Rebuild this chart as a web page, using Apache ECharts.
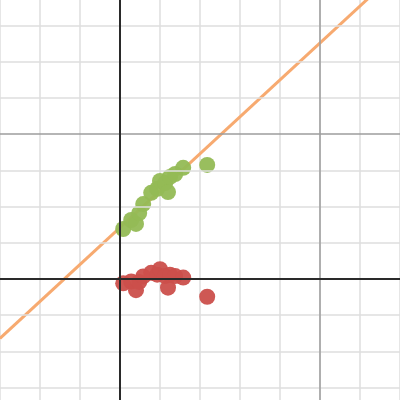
<!DOCTYPE html>
<html>
<head>
<meta charset="utf-8">
<script src="https://cdn.jsdelivr.net/npm/echarts@6/dist/echarts.min.js"></script>
<style>
html,body{margin:0;padding:0;background:#fff;}
#c{width:400px;height:400px;}
</style>
</head>
<body>
<div id="c"></div>
<script>
// x positions shared by both point sets
var xVals = [0.08, 0.28, 0.40, 0.48, 0.58, 0.78, 0.93, 1.00, 1.13, 1.20, 1.25, 1.38, 1.58, 2.18];
// observed values (green)
var greenY = [1.38, 1.63, 1.52, 1.82, 2.07, 2.38, 2.49, 2.71, 2.65, 2.40, 2.82, 2.90, 3.07, 3.15];
// residuals (red)
var redY = [-0.12, -0.07, -0.31, -0.08, 0.07, 0.17, 0.12, 0.27, 0.08, -0.24, 0.12, 0.08, 0.04, -0.49];
// fitted line endpoints
var fitX = [-3, 7];
var fitY = [-1.64, 8.56];
// visible window
var xRange = [-3, 7];
var yRange = [-3.343, 7.707];
// grid line positions
var minorY = [-3, -2, -1, 1, 2, 3, 5, 6, 7];
var axisX = [0];
var axisY = [0];
var majorX = [5];
var majorY = [4];

function pairs(xs, ys){ return xs.map(function(x,i){ return [x, ys[i]]; }); }

var chart = echarts.init(document.getElementById('c'), null, {renderer:'canvas'});
var minorStyle = {color:'#dedede', width:1.5, type:'solid'};
var minorData = [];
minorY.forEach(function(v){ minorData.push({yAxis:v, lineStyle:minorStyle}); });
var mlData = [];
majorX.forEach(function(v){ mlData.push({xAxis:v, lineStyle:{color:'#9c9c9c', width:1.5, type:'solid'}}); });
majorY.forEach(function(v){ mlData.push({yAxis:v, lineStyle:{color:'#9c9c9c', width:1.5, type:'solid'}}); });
axisX.forEach(function(v){ mlData.push({xAxis:v, lineStyle:{color:'#2a2a2a', width:2, type:'solid'}}); });
axisY.forEach(function(v){ mlData.push({yAxis:v, lineStyle:{color:'#2a2a2a', width:2, type:'solid'}}); });

chart.setOption({
  animation:false,
  backgroundColor:'#ffffff',
  grid:{left:0, right:0, top:0, bottom:0, containLabel:false},
  xAxis:{type:'value', min:xRange[0], max:xRange[1], interval:1,
    axisLine:{show:false}, axisTick:{show:false}, axisLabel:{show:false},
    splitLine:{show:true, lineStyle:minorStyle}},
  yAxis:{type:'value', min:yRange[0], max:yRange[1],
    axisLine:{show:false}, axisTick:{show:false}, axisLabel:{show:false},
    splitLine:{show:false}},
  series:[
    {type:'line', data:[], silent:true, z:1,
      markLine:{silent:true, symbol:['none','none'], label:{show:false}, data:minorData, animation:false}},
    {type:'line', data:[], silent:true, z:1,
      markLine:{silent:true, symbol:['none','none'], label:{show:false}, data:mlData, animation:false}},
    {type:'line', data:pairs(fitX, fitY), showSymbol:false, symbol:'none', clip:true, z:2,
      lineStyle:{color:'#f7aa70', width:3}},
    {type:'scatter', data:pairs(xVals, greenY), symbolSize:16, z:3,
      itemStyle:{color:'#93bb55', opacity:0.95}},
    {type:'scatter', data:pairs(xVals, redY), symbolSize:16, z:3,
      itemStyle:{color:'#cb4f4b', opacity:0.95}}
  ]
});
</script>
</body>
</html>
